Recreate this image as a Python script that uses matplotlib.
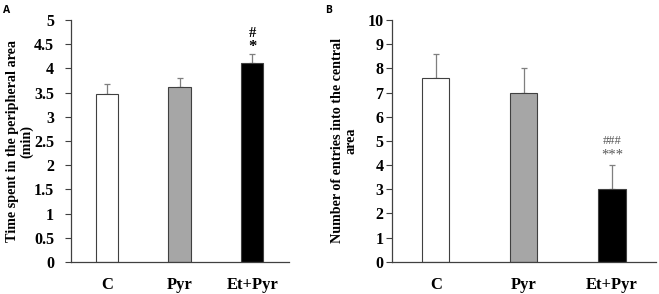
import matplotlib
matplotlib.use('Agg')
import matplotlib.pyplot as plt

groups = ['C', 'Pyr', 'Et+Pyr']
time_periph = [3.47, 3.61, 4.12]
time_err = [0.21, 0.19, 0.18]
entries_central = [7.6, 7.0, 3.0]
entries_err = [1.0, 1.0, 1.0]
bar_colors = ['white', '#a6a6a6', 'black']

serif = 'Liberation Serif'
axis_col = '#404040'

fig = plt.figure(figsize=(6.59, 2.94), dpi=100)
ax_a = fig.add_axes([0.1073, 0.1088, 0.3305, 0.8232])
ax_b = fig.add_axes([0.5944, 0.1099, 0.4010, 0.8221])


def draw_panel(ax, vals, errs, ylim, yticks, ylabel, label_x, ypad):
    x = range(len(groups))
    ax.bar(x, vals, width=0.31, color=bar_colors, edgecolor=axis_col, linewidth=0.8, zorder=2)
    ax.errorbar(x, vals, yerr=[[0] * len(errs), errs], fmt='none', ecolor='#7f7f7f',
                elinewidth=0.9, capsize=2.5, capthick=0.9, zorder=1)
    ax.set_xlim(-0.5, 2.5)
    ax.set_ylim(*ylim)
    ax.set_yticks(yticks)
    ax.set_yticklabels([('%g' % t) for t in yticks], fontfamily=serif, fontweight='bold', fontsize=11.5)
    ax.set_xticks(list(x))
    ax.set_xticklabels(groups, fontfamily=serif, fontweight='bold', fontsize=12)
    ax.tick_params(axis='x', length=0, pad=11)
    ax.tick_params(axis='y', direction='out', length=4, width=0.8, color=axis_col, pad=ypad)
    for s in ['top', 'right']:
        ax.spines[s].set_visible(False)
    for s in ['left', 'bottom']:
        ax.spines[s].set_color(axis_col)
        ax.spines[s].set_linewidth(0.9)
    ax.set_ylabel(ylabel, fontfamily=serif, fontweight='bold', fontsize=10.2, linespacing=1.1)
    ax.yaxis.set_label_coords(label_x, 0.5)


draw_panel(ax_a, time_periph, time_err, (0, 5), [0, 0.5, 1, 1.5, 2, 2.5, 3, 3.5, 4, 4.5, 5],
           'Time spent in the peripheral area\n(min)', -0.172, 8)
draw_panel(ax_b, entries_central, entries_err, (0, 10), list(range(11)),
           'Number of entries into the central\narea', -0.128, 2)

ax_a.text(2, 4.44, '*', ha='center', va='center', fontfamily=serif, fontweight='bold', fontsize=12)
ax_a.text(2, 4.73, '#', ha='center', va='center', fontfamily=serif, fontweight='bold', fontsize=10.5)
ax_b.text(2, 4.42, '***', ha='center', va='center', fontfamily=serif, fontsize=10.5, color='#595959')
ax_b.text(2, 5.0, '###', ha='center', va='center', fontfamily=serif, fontsize=9, color='#595959')

fig.text(0.004, 0.983, 'A', ha='left', va='top', fontfamily='Open Sans', fontweight='bold', fontsize=7.5)
fig.text(0.493, 0.983, 'B', ha='left', va='top', fontfamily='Open Sans', fontweight='bold', fontsize=7.5)

fig.savefig('out.png', dpi=100)
